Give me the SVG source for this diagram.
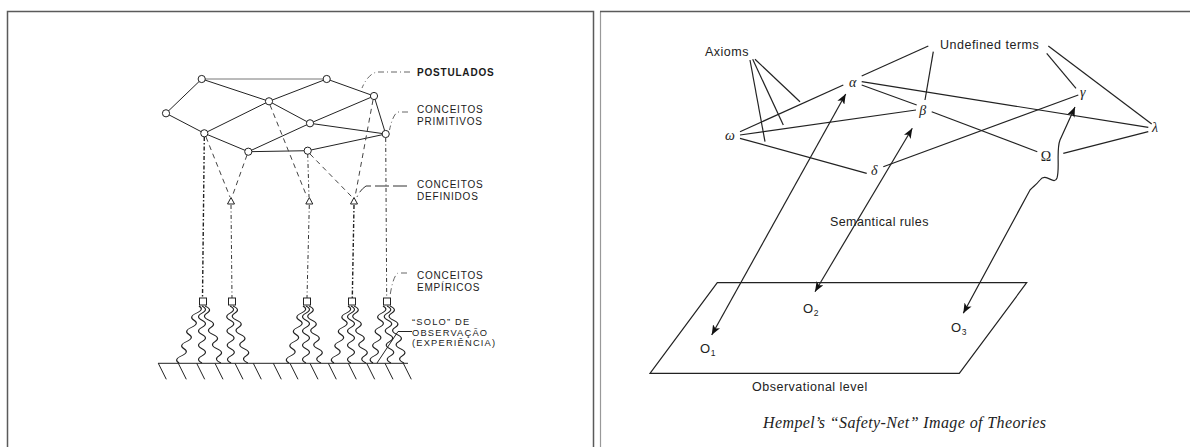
<svg xmlns="http://www.w3.org/2000/svg" xmlns:xlink="http://www.w3.org/1999/xlink" width="1190" height="447" viewBox="0 0 1190 447">
<style>
.frame{fill:none;stroke:#5a5a5a;stroke-width:1.5}
.ln{fill:none;stroke:#222;stroke-width:1}
.lg{fill:none;stroke:#777;stroke-width:1}
.dd{fill:none;stroke:#333;stroke-width:1;stroke-dasharray:4 2.5 1 2.5}
.ds{fill:none;stroke:#444;stroke-width:1;stroke-dasharray:5 4}
.dh{fill:none;stroke:#222;stroke-width:1.4;stroke-dasharray:4 2 1.5 2}
.ldr{fill:none;stroke:#666;stroke-width:1;stroke-dasharray:6 3 1 3}
.nd{fill:#fff;stroke:#222;stroke-width:1}
.wv{fill:none;stroke:#222;stroke-width:1.1}
.lab{font-family:"Liberation Sans",Arial,sans-serif;font-size:10px;letter-spacing:0.8px;fill:#1a1a1a}
.sm{font-size:9.3px;letter-spacing:1.2px}
.rl{fill:none;stroke:#222;stroke-width:1.2}
.rt{font-family:"Liberation Sans",Arial,sans-serif;font-size:12.5px;letter-spacing:0.5px;fill:#222}
.gk{font-family:"Liberation Serif","Times New Roman",serif;font-style:italic;font-size:14px;fill:#222;text-anchor:middle}
.cap{font-family:"Liberation Serif","Times New Roman",serif;font-style:italic;font-size:16px;fill:#222}
</style>
<defs>
<path id="wave" class="wv" d="M0,0 q7,3.5625 0,7.125 t0,7.125 t0,7.125 t0,7.125 t0,7.125 t0,7.125 t0,7.125 t0,7.125"/>
<marker id="ah" viewBox="0 0 10 8" refX="10" refY="4" markerWidth="10" markerHeight="8" markerUnits="userSpaceOnUse" orient="auto-start-reverse"><path d="M0,0 L10,4 L0,8 L2.5,4 z" fill="#111"/></marker>
</defs>
<rect width="1190" height="447" fill="#fff"/>
<!-- panel frames -->
<path class="frame" d="M7.5,447 L7.5,11.5 L593.5,11.5 L593.5,447"/>
<path d="M600.5,447 L600.5,11.5" fill="none" stroke="#999" stroke-width="1.2"/>
<path class="frame" d="M600,11.5 L1190,11.5"/>

<!-- LEFT PANEL -->
<g id="left-connectors">
  <line class="lg" x1="201.7" y1="79" x2="326.7" y2="79"/>
  <line class="ln" x1="201.7" y1="79" x2="166" y2="113.3"/>
  <line class="ln" x1="201.7" y1="79" x2="269" y2="101.3"/>
  <line class="ln" x1="326.7" y1="79" x2="269" y2="101.3"/>
  <line class="ln" x1="326.7" y1="79" x2="374" y2="96"/>
  <line class="ln" x1="166" y1="113.3" x2="204.3" y2="133.3"/>
  <line class="ln" x1="204.3" y1="133.3" x2="269" y2="101.3"/>
  <line class="ln" x1="269" y1="101.3" x2="310" y2="123.3"/>
  <line class="ln" x1="204.3" y1="133.3" x2="248.3" y2="151.7"/>
  <line class="ln" x1="248.3" y1="151.7" x2="310" y2="123.3"/>
  <line class="ln" x1="310" y1="123.3" x2="374" y2="96"/>
  <line class="ln" x1="310" y1="123.3" x2="385.7" y2="134"/>
  <line class="ln" x1="374" y1="96" x2="385.7" y2="134"/>
  <line class="ln" x1="248.3" y1="151.7" x2="307.7" y2="150.7"/>
  <line class="ln" x1="307.7" y1="150.7" x2="385.7" y2="134"/>
  <!-- dashed links to defined / empirical -->
  <line class="dh" x1="204.3" y1="137" x2="202.5" y2="298"/>
  <line class="ds" x1="206" y1="137" x2="230" y2="197"/>
  <line class="ds" x1="247" y1="155" x2="232" y2="197"/>
  <line class="dd" x1="231" y1="205" x2="232" y2="298"/>
  <line class="ds" x1="270" y1="105" x2="307" y2="197"/>
  <line class="dd" x1="307.7" y1="154" x2="309" y2="197"/>
  <line class="ds" x1="310" y1="154" x2="352" y2="197"/>
  <line class="ds" x1="373" y1="100" x2="355" y2="197"/>
  <line class="dd" x1="309.3" y1="205" x2="307" y2="298"/>
  <line class="dh" x1="354" y1="205" x2="352.3" y2="298"/>
  <line class="dd" x1="385.7" y1="138" x2="386.7" y2="298"/>
  <!-- leaders -->
  <path class="ldr" d="M410,72 L377,72 Q368,74 362,88"/>
  <path class="ldr" d="M408,112 L398,112 Q393,114 389.5,130"/>
  <path d="M407,186 L366,186 Q360,190 357,197" fill="none" stroke="#333" stroke-width="1" stroke-dasharray="14 4"/>
  <path class="ldr" d="M407,273 L398,273 Q393,276 390,296"/>
  <path class="ln" d="M412,331.5 L398,331.5 L377,363"/>
  <!-- wavy lines -->
  <use xlink:href="#wave" transform="matrix(1 0 -0.351 1 199 306)"/>
  <use xlink:href="#wave" transform="matrix(1 0 0 1 202 306)"/>
  <use xlink:href="#wave" transform="matrix(1 0 0.281 1 205 306)"/>
  <use xlink:href="#wave" transform="matrix(1 0 0.018 1 230 306)"/>
  <use xlink:href="#wave" transform="matrix(1 0 0.263 1 233 306)"/>
  <use xlink:href="#wave" transform="matrix(1 0 -0.246 1 303 306)"/>
  <use xlink:href="#wave" transform="matrix(1 0 0 1 306 306)"/>
  <use xlink:href="#wave" transform="matrix(1 0 0.211 1 309 306)"/>
  <use xlink:href="#wave" transform="matrix(1 0 -0.246 1 348 306)"/>
  <use xlink:href="#wave" transform="matrix(1 0 0 1 351 306)"/>
  <use xlink:href="#wave" transform="matrix(1 0 0.211 1 354 306)"/>
  <use xlink:href="#wave" transform="matrix(1 0 -0.175 1 383 306)"/>
  <use xlink:href="#wave" transform="matrix(1 0 0.07 1 387 306)"/>
  <use xlink:href="#wave" transform="matrix(1 0 0.246 1 390 306)"/>
  <!-- ground -->
  <line class="ln" x1="158" y1="363.3" x2="408" y2="363.3"/>
  <path class="ln" d="M158.3,363.3 l8,16 M178.3,363.3 l8,16 M196.7,363.3 l8,16 M215,363.3 l8,16 M235,363.3 l8,16 M253.3,363.3 l8,16 M273.3,363.3 l8,16 M290,363.3 l8,16 M310,363.3 l8,16 M328.3,363.3 l8,16 M348.3,363.3 l8,16 M366.7,363.3 l8,16 M385,363.3 l8,16 M403.3,363.3 l8,16"/>
</g>
<g id="postulados-nodes">
  <circle id="pA" class="nd" cx="201.7" cy="79" r="3.6"/>
  <circle id="pB" class="nd" cx="326.7" cy="79" r="3.6"/>
  <circle id="pC" class="nd" cx="166" cy="113.3" r="3.6"/>
  <circle id="pD" class="nd" cx="269" cy="101.3" r="3.6"/>
  <circle id="pE" class="nd" cx="374" cy="96" r="3.6"/>
  <circle id="pF" class="nd" cx="310" cy="123.3" r="3.6"/>
  <circle id="pG" class="nd" cx="204.3" cy="133.3" r="3.6"/>
  <circle id="pH" class="nd" cx="385.7" cy="134" r="3.6"/>
  <circle id="pI" class="nd" cx="248.3" cy="151.7" r="3.6"/>
  <circle id="pJ" class="nd" cx="307.7" cy="150.7" r="3.6"/>
</g>
<g id="defined-nodes">
  <polygon class="nd" points="231,197.5 227.5,204 234.5,204"/>
  <polygon class="nd" points="309.3,197.5 305.8,204 312.8,204"/>
  <polygon class="nd" points="354,197.5 350.5,204 357.5,204"/>
</g>
<g id="empirical-nodes">
  <rect class="nd" x="199.5" y="298" width="7" height="7"/>
  <rect class="nd" x="228.5" y="298" width="7" height="7"/>
  <rect class="nd" x="303.5" y="298" width="7" height="7"/>
  <rect class="nd" x="348.5" y="298" width="7" height="7"/>
  <rect class="nd" x="383.5" y="298" width="7" height="7"/>
</g>
<g id="left-labels">
  <text class="lab" x="417" y="76" font-weight="bold">POSTULADOS</text>
  <text class="lab" x="417" y="112.5">CONCEITOS</text>
  <text class="lab" x="417" y="125">PRIMITIVOS</text>
  <text class="lab" x="417" y="187.5">CONCEITOS</text>
  <text class="lab" x="417" y="199.5">DEFINIDOS</text>
  <text class="lab" x="417" y="279">CONCEITOS</text>
  <text class="lab" x="417" y="291">EMPÍRICOS</text>
  <text class="lab sm" x="412" y="325">“SOLO” DE</text>
  <text class="lab sm" x="412" y="335.5">OBSERVAÇÃO</text>
  <text class="lab sm" x="412" y="345.5">(EXPERIÊNCIA)</text>
</g>

<!-- RIGHT PANEL -->
<g id="right-connectors">
  <line class="rl" x1="750" y1="60" x2="765" y2="141.7"/>
  <line class="rl" x1="752.7" y1="59.3" x2="783.3" y2="125"/>
  <line class="rl" x1="755" y1="59.3" x2="800" y2="101.7"/>
  <line class="rl" x1="861.7" y1="76" x2="928.3" y2="46"/>
  <line class="rl" x1="925" y1="100" x2="933.3" y2="51.7"/>
  <line class="rl" x1="740" y1="131.7" x2="843.3" y2="85"/>
  <line class="rl" x1="740" y1="135" x2="916" y2="110"/>
  <line class="rl" x1="740" y1="138.3" x2="866.7" y2="173.3"/>
  <line class="rl" x1="861.7" y1="85" x2="916.7" y2="105"/>
  <line class="rl" x1="861.7" y1="81.7" x2="1148.3" y2="127.3"/>
  <line class="rl" x1="931.7" y1="111.7" x2="1037.3" y2="151.7"/>
  <line class="rl" x1="883.3" y1="166.7" x2="1078.3" y2="95"/>
  <line class="rl" x1="1063.3" y1="153.3" x2="1148.3" y2="131.7"/>
  <line class="rl" x1="1046.7" y1="53.3" x2="1076" y2="88.3"/>
  <line class="rl" x1="1048.3" y1="46" x2="1151.7" y2="124"/>
  <line class="rl" x1="845.7" y1="94" x2="711.7" y2="335" marker-start="url(#ah)" marker-end="url(#ah)"/>
  <line class="rl" x1="912.3" y1="128.3" x2="815" y2="291.7" marker-start="url(#ah)" marker-end="url(#ah)"/>
  <path class="rl" d="M1075,107 L1060,140 C1056,150 1060,168 1057,178 C1054,186 1046,172 1040,180 C1036,185 1034,186 1030,190 L963.3,313.3" marker-start="url(#ah)" marker-end="url(#ah)"/>
</g>
<g id="observational-level">
  <polygon class="rl" points="717.3,282.7 1026.7,282.7 959.3,373.3 650,373.3"/>
</g>
<g id="theory-terms">
  <text class="gk" x="852.7" y="86.5">α</text>
  <text class="gk" x="922.7" y="115">β</text>
  <text class="gk" x="730" y="140">ω</text>
  <text class="gk" x="874.3" y="175">δ</text>
  <text class="gk" x="1082.7" y="97">γ</text>
  <text class="gk" x="1155" y="132">λ</text>
  <text class="gk" x="1046" y="160.5" style="font-style:normal">Ω</text>
</g>
<g id="obs-terms">
  <text class="rt" x="700" y="353" style="font-size:13px">O<tspan font-size="8.5" dy="3">1</tspan></text>
  <text class="rt" x="803" y="313" style="font-size:13px">O<tspan font-size="8.5" dy="3">2</tspan></text>
  <text class="rt" x="951" y="332" style="font-size:13px">O<tspan font-size="8.5" dy="3">3</tspan></text>
</g>
<g id="right-labels">
  <text class="rt" x="705" y="56">Axioms</text>
  <text class="rt" x="940" y="49">Undefined terms</text>
  <text class="rt" x="830" y="226" style="letter-spacing:0.4px">Semantical rules</text>
  <text class="rt" x="752" y="391">Observational level</text>
  <text class="cap" x="763" y="428" textLength="283" lengthAdjust="spacing">Hempel’s “Safety-Net” Image of Theories</text>
</g>
</svg>
